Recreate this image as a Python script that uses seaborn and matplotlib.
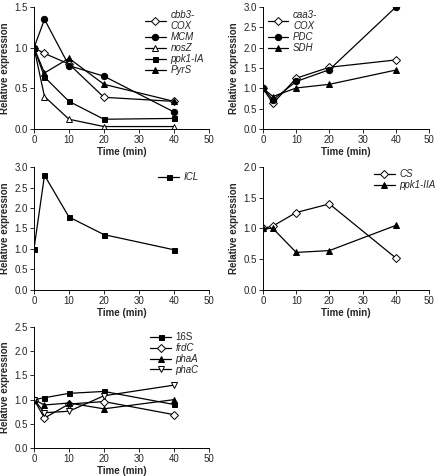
import matplotlib
matplotlib.use('Agg')
import matplotlib.pyplot as plt
import seaborn as sns
import pandas as pd

sns.set_style('white')
plt.rcParams['font.family'] = ['Liberation Sans', 'DejaVu Sans']

time = [0, 3, 10, 20, 40]

# panel A
cbb3_cox = [1.0, 0.93, 0.80, 0.39, 0.34]
mcm = [1.0, 1.35, 0.78, 0.65, 0.21]
nosz = [1.0, 0.40, 0.12, 0.03, 0.03]
ppk1_ia = [1.0, 0.64, 0.34, 0.12, 0.13]
pyrs = [1.0, 0.69, 0.87, 0.55, 0.34]

# panel B
caa3_cox = [1.0, 0.63, 1.25, 1.52, 1.70]
pdc = [1.0, 0.72, 1.17, 1.46, 3.0]
sdh = [1.0, 0.80, 1.01, 1.10, 1.45]

# panel C
icl = [1.0, 2.80, 1.78, 1.35, 0.98]

# panel D
cs = [1.0, 1.04, 1.26, 1.40, 0.52]
ppk1_iia = [1.0, 1.0, 0.61, 0.64, 1.05]

# panel E
s16 = [1.0, 1.04, 1.13, 1.17, 0.90]
frdc = [1.0, 0.62, 0.91, 0.96, 0.69]
phaa = [1.0, 0.89, 0.93, 0.81, 1.0]
phac = [1.0, 0.73, 0.76, 1.08, 1.30]

# rect, ymax, legend loc, legend anchor, series (label, values, marker, filled, italic)
panels = [
    ([0.0764, 0.729, 0.393, 0.256], 1.5, 'upper right', (1.0, 1.02),
     [('cbb3-\nCOX', cbb3_cox, 'D', False, True),
      ('MCM', mcm, 'o', True, True),
      ('nosZ', nosz, '^', False, True),
      ('ppk1-IA', ppk1_ia, 's', True, True),
      ('PyrS', pyrs, '^', True, True)]),
    ([0.591, 0.729, 0.373, 0.256], 3.0, 'upper left', (0.0, 1.02),
     [('caa3-\nCOX', caa3_cox, 'D', False, True),
      ('PDC', pdc, 'o', True, True),
      ('SDH', sdh, '^', True, True)]),
    ([0.0764, 0.391, 0.393, 0.258], 3.0, 'upper right', (0.97, 1.0),
     [('ICL', icl, 's', True, True)]),
    ([0.591, 0.391, 0.373, 0.258], 2.0, 'upper right', (1.07, 1.02),
     [('CS', cs, 'D', False, True),
      ('ppk1-IIA', ppk1_iia, '^', True, True)]),
    ([0.0764, 0.0588, 0.393, 0.254], 2.5, 'upper right', (0.97, 1.0),
     [('16S', s16, 's', True, False),
      ('frdC', frdc, 'D', False, True),
      ('phaA', phaa, '^', True, True),
      ('phaC', phac, 'v', False, True)]),
]

msizes = {'D': 3.6, 'o': 4.6, '^': 4.6, 'v': 4.6, 's': 3.6}

fig = plt.figure(figsize=(4.45, 4.76), dpi=100)

for rect, ymax, lloc, anchor, series in panels:
    ax = fig.add_axes(rect)
    for label, vals, mk, filled, it in series:
        sns.lineplot(x=time, y=vals, ax=ax, color='black', lw=0.9,
                     marker=mk, markersize=msizes[mk],
                     markerfacecolor='black' if filled else 'white',
                     markeredgecolor='black', markeredgewidth=0.7,
                     label=label)
    ax.set_xlim(0, 50)
    ax.set_ylim(0, ymax)
    ax.set_xticks(range(0, 51, 10))
    n = int(ymax / 0.5) + 1
    ax.set_yticks([i * 0.5 for i in range(n)])
    ax.set_yticklabels(['%.1f' % (i * 0.5) for i in range(n)])
    ax.set_xlabel('Time (min)', fontsize=7, fontweight='bold', labelpad=1)
    ax.set_ylabel('Relative expression', fontsize=7, fontweight='bold', labelpad=3)
    ax.tick_params(axis='both', labelsize=7, direction='out', length=3,
                   width=0.7, bottom=True, left=True, pad=1.5)
    for side in ['top', 'right']:
        ax.spines[side].set_visible(False)
    for side in ['left', 'bottom']:
        ax.spines[side].set_color('black')
        ax.spines[side].set_linewidth(0.7)
    leg = ax.legend(loc=lloc, bbox_to_anchor=anchor, frameon=False, fontsize=7,
                    handlelength=2.1, labelspacing=0.1, borderaxespad=0.1,
                    handletextpad=0.5)
    for txt, (label, vals, mk, filled, it) in zip(leg.get_texts(), series):
        if it:
            txt.set_fontstyle('italic')

fig.savefig('out.png', dpi=100, facecolor='white')
